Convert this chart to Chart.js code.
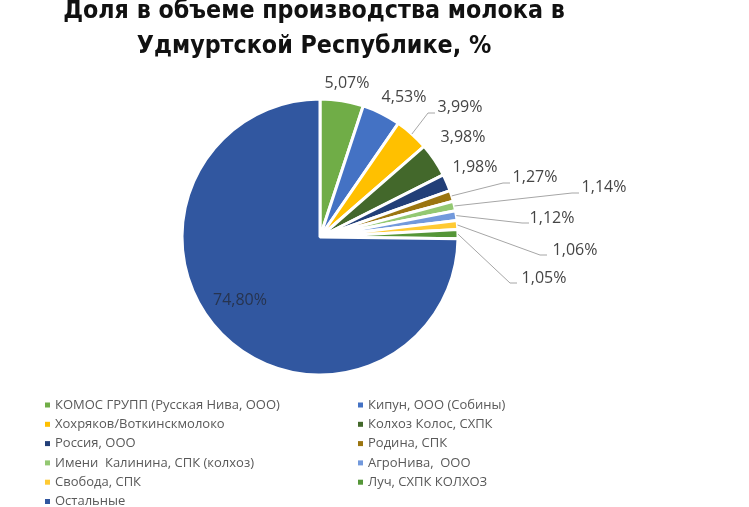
<!DOCTYPE html>
<html>
<head>
<meta charset="utf-8">
<script src="https://cdn.jsdelivr.net/npm/chart.js@4"></script>
<style>
  html, body { margin: 0; padding: 0; background: #fff; }
  canvas { display: block; }
</style>
</head>
<body>
<canvas id="chart" width="749" height="507"></canvas>
<script>
const titleLines = ['Доля в объеме производства молока в', 'Удмуртской Республике, %'];

const categories = [
    'КОМОС ГРУПП (Русская Нива, ООО)',
    'Кипун, ООО (Собины)',
    'Хохряков/Воткинскмолоко',
    'Колхоз Колос, СХПК',
    'Россия, ООО',
    'Родина, СПК',
    'Имени  Калинина, СПК (колхоз)',
    'АгроНива,  ООО',
    'Свобода, СПК',
    'Луч, СХПК КОЛХОЗ',
    'Остальные'
];

const shares = [5.07, 4.53, 3.99, 3.98, 1.98, 1.27, 1.14, 1.12, 1.06, 1.05, 74.80];

const colors = ['#70ad47', '#4472c4', '#ffc000', '#43682b', '#223f78', '#9b7510',
    '#93c872', '#7299dc', '#ffca33', '#559638', '#3157a0'];

// where each value label sits (text centre) and the elbow of its leader line
const labelAt = [[347, 83], [404, 97], [460, 107], [463, 137], [475, 167], [535, 177],
    [604, 187], [552, 218], [575, 250], [544, 278], [240, 300]];
const elbowAt = [null, null, [428, 113], null, null, [503, 183], [572, 193],
    [522, 223], [540, 255], [510, 283], null];

function fmt(v) {
    return v.toFixed(2).replace('.', ',') + '%';
}

const pieLabels = {
    id: 'pieLabels',
    afterDatasetsDraw(chart) {
        const ctx = chart.ctx;
        const arcs = chart.getDatasetMeta(0).data;
        ctx.save();
        ctx.font = '16px "Open Sans", sans-serif';
        ctx.textAlign = 'center';
        ctx.textBaseline = 'middle';
        arcs.forEach((arc, i) => {
            const p = arc.getProps(['x', 'y', 'startAngle', 'endAngle', 'outerRadius'], true);
            const mid = (p.startAngle + p.endAngle) / 2;
            const ax = p.x + Math.cos(mid) * p.outerRadius;
            const ay = p.y + Math.sin(mid) * p.outerRadius;
            if (elbowAt[i]) {
                ctx.strokeStyle = '#a6a6a6';
                ctx.lineWidth = 1;
                ctx.beginPath();
                ctx.moveTo(ax, ay);
                ctx.lineTo(elbowAt[i][0], elbowAt[i][1]);
                ctx.lineTo(elbowAt[i][0] + 7, elbowAt[i][1]);
                ctx.stroke();
            }
            ctx.fillStyle = i === arcs.length - 1 ? '#27344f' : '#454545';
            ctx.fillText(fmt(shares[i]), labelAt[i][0], labelAt[i][1]);
        });
        ctx.restore();
    }
};

const titleAndLegend = {
    id: 'titleAndLegend',
    afterDraw(chart) {
        const ctx = chart.ctx;
        ctx.save();
        // title
        let size = 30;
        const fam = '"Liberation Sans Narrow", "DejaVu Sans Condensed", "Open Sans", sans-serif';
        ctx.font = `bold ${size}px ${fam}`;
        const w = ctx.measureText(titleLines[0]).width;
        size = Math.min(30, size * 502 / w);
        ctx.font = `bold ${size}px ${fam}`;
        ctx.fillStyle = '#111';
        ctx.textAlign = 'center';
        ctx.textBaseline = 'alphabetic';
        ctx.fillText(titleLines[0], 314, 18);
        ctx.fillText(titleLines[1], 314, 53);

        // legend, two columns
        ctx.font = '13px "Open Sans", sans-serif';
        ctx.textAlign = 'left';
        ctx.textBaseline = 'middle';
        categories.forEach((name, i) => {
            const col = i % 2;
            const row = Math.floor(i / 2);
            const x = col === 0 ? 45 : 358;
            const y = 405 + row * 19.3;
            ctx.fillStyle = colors[i];
            ctx.fillRect(x, y - 2.5, 5, 5);
            ctx.fillStyle = '#595959';
            ctx.fillText(name, x + 10, y);
        });
        ctx.restore();
    }
};

new Chart(document.getElementById('chart'), {
    type: 'pie',
    data: {
        labels: categories,
        datasets: [{
            data: shares,
            backgroundColor: colors,
            borderColor: '#ffffff',
            borderWidth: 3,
            radius: 138
        }]
    },
    options: {
        responsive: false,
        animation: false,
        layout: {
            padding: { left: 180, right: 289, top: 98, bottom: 131 }
        },
        plugins: {
            legend: { display: false },
            title: { display: false },
            tooltip: { enabled: false }
        }
    },
    plugins: [pieLabels, titleAndLegend]
});
</script>
</body>
</html>
